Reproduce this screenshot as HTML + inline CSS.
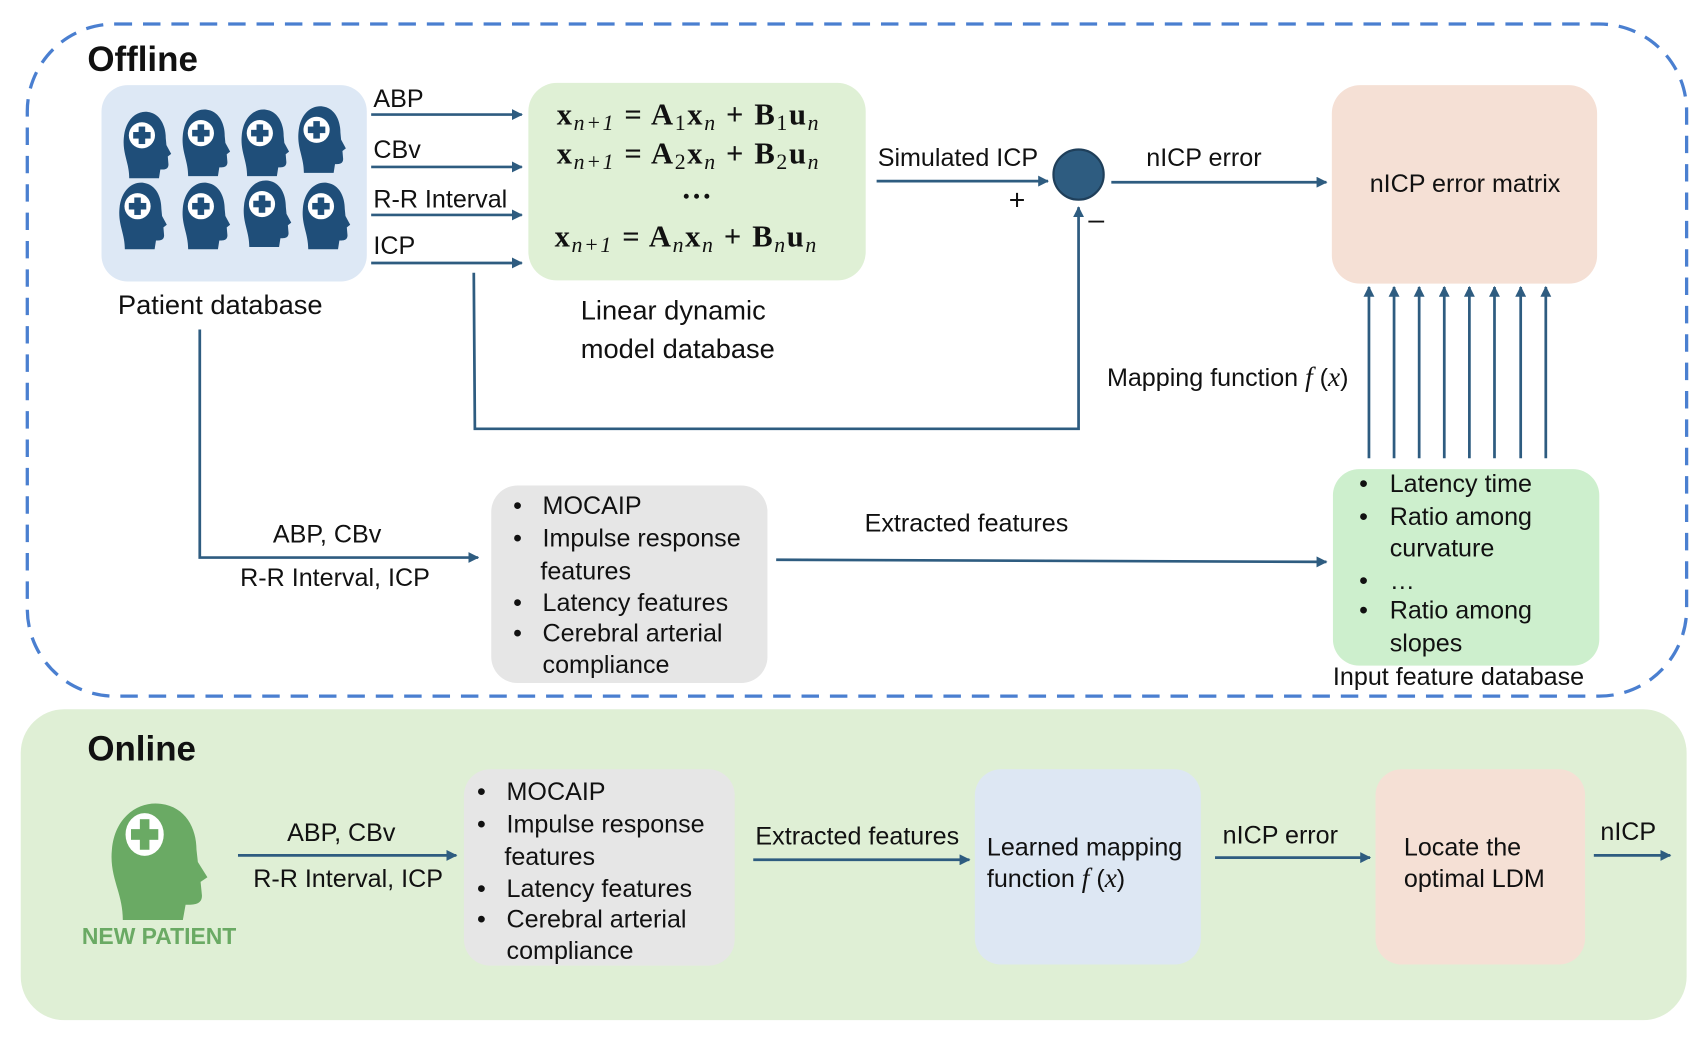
<!DOCTYPE html>
<html><head><meta charset="utf-8"><style>
html,body{margin:0;padding:0;background:#fff;}
svg{display:block;}
text{font-family:"Liberation Sans",sans-serif;font-size:23px;fill:#111;}
.eq{font-family:"Liberation Serif",serif;font-weight:bold;font-size:28px;letter-spacing:1.5px;}
.sub{font-size:20px;font-style:italic;font-weight:normal;}
.it{font-family:"Liberation Serif",serif;font-style:italic;}
</style></head><body>
<svg width="1703" height="1042" viewBox="0 0 1560 955" preserveAspectRatio="none" xmlns="http://www.w3.org/2000/svg">
<defs>
<marker id="ar" markerWidth="10" markerHeight="10" refX="9" refY="5" orient="auto" markerUnits="userSpaceOnUse">
<path d="M0,0 L10,5 L0,10 z" fill="#2e5c80"/></marker>
<g id="head">
<g transform="scale(0.62,0.8)">
<path d="M-22,38 C-22,20 -32,10 -30,-8 C-28,-30 -10,-40 6,-38 C24,-36 32,-22 32,-8 L33,0 L40,10 L35,13 L36,22 C36,28 30,28 24,28 L22,38 Z" fill="#1f4e79"/>
</g>
<circle cx="-2" cy="-9" r="12" fill="#fff"/>
<rect x="-5" y="-17" width="6" height="16" fill="#1f4e79"/>
<rect x="-10" y="-12" width="16" height="6" fill="#1f4e79"/>
</g>
</defs>
<!-- Offline -->
<rect x="25" y="22" width="1520" height="616" rx="80" fill="none" stroke="#4a7fd0" stroke-width="3" stroke-dasharray="16,10"/>
<text x="80" y="65" style="font-size:32px;font-weight:bold">Offline</text>
<rect x="93" y="78" width="243" height="180" rx="24" fill="#dde8f5"/>
<use href="#head" x="132" y="133"/><use href="#head" x="186" y="131"/><use href="#head" x="240" y="131"/><use href="#head" x="292" y="128"/>
<use href="#head" x="128" y="198"/><use href="#head" x="186" y="198"/><use href="#head" x="242" y="196"/><use href="#head" x="296" y="198"/>
<text x="108" y="288" style="font-size:25px">Patient database</text>
<g stroke="#2e5c80" stroke-width="2.5" fill="none" marker-end="url(#ar)">
<line x1="340" y1="105" x2="478" y2="105"/>
<line x1="340" y1="153" x2="478" y2="153"/>
<line x1="340" y1="197" x2="478" y2="197"/>
<line x1="340" y1="241" x2="478" y2="241"/>
<line x1="803" y1="166" x2="960" y2="166"/>
<line x1="1018" y1="167" x2="1215" y2="167"/>
<polyline points="434,250 435,393 988,393 988,190"/>
<polyline points="183,302 183,511 438,511"/>
<line x1="711" y1="513" x2="1215" y2="515"/>
<line x1="1254" y1="420" x2="1254" y2="263"/><line x1="1277" y1="420" x2="1277" y2="263"/>
<line x1="1300" y1="420" x2="1300" y2="263"/><line x1="1323" y1="420" x2="1323" y2="263"/>
<line x1="1346" y1="420" x2="1346" y2="263"/><line x1="1369" y1="420" x2="1369" y2="263"/>
<line x1="1393" y1="420" x2="1393" y2="263"/><line x1="1416" y1="420" x2="1416" y2="263"/>
</g>
<text x="342" y="98">ABP</text><text x="342" y="145">CBv</text><text x="342" y="190">R-R Interval</text><text x="342" y="233">ICP</text>
<rect x="484" y="76" width="309" height="181" rx="26" fill="#dff0d5"/>
<text class="eq" x="510" y="114">x<tspan class="sub" dy="5">n+1</tspan><tspan dy="-5"> = A</tspan><tspan class="sub" dy="5" style="font-style:normal">1</tspan><tspan dy="-5">x</tspan><tspan class="sub" dy="5">n</tspan><tspan dy="-5"> + B</tspan><tspan class="sub" dy="5" style="font-style:normal">1</tspan><tspan dy="-5">u</tspan><tspan class="sub" dy="5">n</tspan></text>
<text class="eq" x="510" y="150">x<tspan class="sub" dy="5">n+1</tspan><tspan dy="-5"> = A</tspan><tspan class="sub" dy="5" style="font-style:normal">2</tspan><tspan dy="-5">x</tspan><tspan class="sub" dy="5">n</tspan><tspan dy="-5"> + B</tspan><tspan class="sub" dy="5" style="font-style:normal">2</tspan><tspan dy="-5">u</tspan><tspan class="sub" dy="5">n</tspan></text>
<text class="eq" x="624" y="182">…</text>
<text class="eq" x="508" y="226">x<tspan class="sub" dy="5">n+1</tspan><tspan dy="-5"> = A</tspan><tspan class="sub" dy="5">n</tspan><tspan dy="-5">x</tspan><tspan class="sub" dy="5">n</tspan><tspan dy="-5"> + B</tspan><tspan class="sub" dy="5">n</tspan><tspan dy="-5">u</tspan><tspan class="sub" dy="5">n</tspan></text>
<text x="532" y="293" style="font-size:25px">Linear dynamic</text>
<text x="532" y="328" style="font-size:25px">model database</text>
<text x="804" y="152">Simulated ICP</text>
<text x="924" y="192" style="font-size:26px">+</text>
<circle cx="988" cy="160" r="23" fill="#2e5c80" stroke="#1f3f5a" stroke-width="2"/>
<text x="997" y="210" style="font-size:26px">–</text>
<text x="1050" y="152">nICP error</text>
<rect x="1220" y="78" width="243" height="182" rx="26" fill="#f5e0d5"/>
<text x="1342" y="176" text-anchor="middle">nICP error matrix</text>
<text x="1014" y="354">Mapping function <tspan class="it" style="font-size:25px">f</tspan> (<tspan class="it" style="font-size:25px">x</tspan>)</text>
<text x="250" y="497">ABP, CBv</text><text x="220" y="537">R-R Interval, ICP</text>
<rect x="450" y="445" width="253" height="181" rx="24" fill="#e6e6e6"/>
<text x="470" y="471">•</text><text x="497" y="471">MOCAIP</text>
<text x="470" y="501">•</text><text x="497" y="501">Impulse response</text>
<text x="495" y="531">features</text>
<text x="470" y="560">•</text><text x="497" y="560">Latency features</text>
<text x="470" y="588">•</text><text x="497" y="588">Cerebral arterial</text>
<text x="497" y="617">compliance</text>
<text x="792" y="487">Extracted features</text>
<rect x="1221" y="430" width="244" height="180" rx="24" fill="#cdefcd"/>
<text x="1245" y="451">•</text><text x="1273" y="451">Latency time</text>
<text x="1245" y="481">•</text><text x="1273" y="481">Ratio among</text>
<text x="1273" y="510">curvature</text>
<text x="1245" y="540">•</text><text x="1273" y="540">…</text>
<text x="1245" y="567">•</text><text x="1273" y="567">Ratio among</text>
<text x="1273" y="597">slopes</text>
<text x="1221" y="628">Input feature database</text>
<!-- Online -->
<rect x="19" y="650" width="1526" height="285" rx="40" fill="#dfefd5"/>
<text x="80" y="697" style="font-size:32px;font-weight:bold">Online</text>
<g transform="translate(140,790) scale(1.25,1.4)">
<path d="M-22,38 C-22,20 -32,10 -30,-8 C-28,-30 -10,-40 6,-38 C24,-36 32,-22 32,-8 L33,0 L40,10 L35,13 L36,22 C36,28 30,28 24,28 L22,38 Z" fill="#6aaa64"/>
<circle cx="-6" cy="-18" r="14" fill="#fff"/>
<rect x="-9.5" y="-28" width="7" height="20" fill="#6aaa64"/>
<rect x="-16" y="-21.5" width="20" height="7" fill="#6aaa64"/>
</g>
<text x="75" y="865" style="font-size:21px;font-weight:bold;fill:#6aaa64">NEW PATIENT</text>
<g stroke="#2e5c80" stroke-width="2.5" fill="none" marker-end="url(#ar)">
<line x1="218" y1="784" x2="418" y2="784"/>
<line x1="690" y1="788" x2="888" y2="788"/>
<line x1="1113" y1="786" x2="1255" y2="786"/>
<line x1="1460" y1="784" x2="1530" y2="784"/>
</g>
<text x="263" y="771">ABP, CBv</text><text x="232" y="813">R-R Interval, ICP</text>
<rect x="425" y="705" width="248" height="180" rx="24" fill="#e6e6e6"/>
<text x="437" y="733">•</text><text x="464" y="733">MOCAIP</text>
<text x="437" y="763">•</text><text x="464" y="763">Impulse response</text>
<text x="462" y="793">features</text>
<text x="437" y="822">•</text><text x="464" y="822">Latency features</text>
<text x="437" y="850">•</text><text x="464" y="850">Cerebral arterial</text>
<text x="464" y="879">compliance</text>
<text x="692" y="774">Extracted features</text>
<rect x="893" y="705" width="207" height="179" rx="24" fill="#dde7f3"/>
<text x="904" y="784">Learned mapping</text>
<text x="904" y="813">function <tspan class="it" style="font-size:25px">f</tspan> (<tspan class="it" style="font-size:25px">x</tspan>)</text>
<text x="1120" y="773">nICP error</text>
<rect x="1260" y="705" width="192" height="179" rx="24" fill="#f5e0d5"/>
<text x="1286" y="784">Locate the</text>
<text x="1286" y="813">optimal LDM</text>
<text x="1466" y="770">nICP</text>
</svg>
</body></html>
